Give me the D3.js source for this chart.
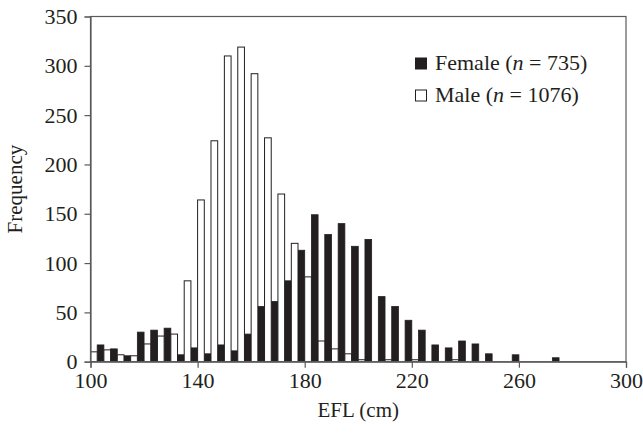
<!DOCTYPE html>
<html>
<head>
<meta charset="utf-8">
<script src="https://cdn.jsdelivr.net/npm/d3@7/dist/d3.min.js"></script>
<style>
  html, body { margin: 0; padding: 0; background: #fff; }
  svg { display: block; }
  text { font-family: "Liberation Serif", "Times New Roman", serif; fill: #231f20; }
</style>
</head>
<body>
<svg id="chart" width="643" height="439"></svg>
<script>
// EFL bin centres (cm), 5 cm bins
const bins = [100, 105, 110, 115, 120, 125, 130, 135, 140, 145, 150, 155, 160, 165, 170,
              175, 180, 185, 190, 195, 200, 205, 210, 215, 220, 225, 230, 235, 240, 245,
              250, 255, 260, 265, 270, 275, 280, 285, 290, 295];
// Frequency per bin
const female = [0, 17, 13, 6, 30, 32, 34, 7, 14, 8, 17, 11, 28, 56, 61,
                82, 113, 149, 129, 140, 117, 124, 66, 56, 42, 32, 17, 14, 21, 18,
                8, 0, 7, 0, 0, 4, 0, 0, 0, 0];
const male = [10, 12, 7, 6, 18, 26, 28, 82, 164, 224, 310, 319, 292, 227, 170,
              120, 86, 21, 13, 8, 2, 0, 2, 0, 2, 0, 0, 2, 0, 0,
              0, 0, 0, 0, 0, 0, 0, 0, 0, 0];
const xTicks = [100, 140, 180, 220, 260, 300];
const yTicks = [0, 50, 100, 150, 200, 250, 300, 350];
const seriesNames = ["Female", "Male"];
const seriesN = [735, 1076];

const ink = "#231f20";
const axisColor = "#5a5a5a";

const svg = d3.select("#chart");
const plotL = 90.5, plotR = 626, plotT = 16.5, plotB = 361.7;

const x = d3.scaleLinear().domain([100, 300]).range([plotL, plotR]);
const y = d3.scaleLinear().domain([0, 350]).range([plotB, plotT]);
const half = 2.5; // each bar covers half a bin

svg.append("defs").append("clipPath").attr("id", "plot")
  .append("rect").attr("x", plotL).attr("y", plotT - 1)
  .attr("width", plotR - plotL).attr("height", plotB - plotT + 1);

const rows = bins.map((b, i) => ({ bin: b, f: female[i], m: male[i] }));
const marks = svg.append("g").attr("clip-path", "url(#plot)");

// female bars sit left of each bin centre, male bars to the right
marks.selectAll("rect.f").data(rows.filter(d => d.f > 0)).join("rect")
  .attr("class", "f")
  .attr("x", d => x(d.bin - half))
  .attr("width", d => x(d.bin) - x(d.bin - half))
  .attr("y", d => y(d.f))
  .attr("height", d => y(0) - y(d.f))
  .attr("fill", ink).attr("stroke", ink).attr("stroke-width", 0.8);

marks.selectAll("rect.m").data(rows.filter(d => d.m > 0)).join("rect")
  .attr("class", "m")
  .attr("x", d => x(d.bin))
  .attr("width", d => x(d.bin + half) - x(d.bin))
  .attr("y", d => y(d.m))
  .attr("height", d => y(0) - y(d.m))
  .attr("fill", "#fff").attr("stroke", ink).attr("stroke-width", 1);

// frame
svg.append("rect").attr("x", plotL).attr("y", plotT)
  .attr("width", plotR - plotL).attr("height", plotB - plotT)
  .attr("fill", "none").attr("stroke", axisColor).attr("stroke-width", 1.2);

// axes
const xAxis = svg.append("g").attr("transform", `translate(0,${plotB})`)
  .call(d3.axisBottom(x).tickValues(xTicks).tickSize(6).tickPadding(4));
const yAxis = svg.append("g").attr("transform", `translate(${plotL},0)`)
  .call(d3.axisLeft(y).tickValues(yTicks).tickSize(6).tickPadding(7));
[xAxis, yAxis].forEach(g => {
  g.select(".domain").attr("stroke", axisColor).attr("stroke-width", 1.2);
  g.selectAll(".tick line").attr("stroke", axisColor).attr("stroke-width", 1.2);
  g.selectAll(".tick text").attr("font-size", 22)
    .attr("font-family", '"Liberation Serif", serif').attr("fill", ink);
});
xAxis.selectAll(".tick text").attr("dy", "0.72em");

// axis titles
svg.append("text").attr("x", (plotL + plotR) / 2).attr("y", 417)
  .attr("text-anchor", "middle").attr("font-size", 21).text("EFL (cm)");
svg.append("text")
  .attr("transform", `translate(22,${(plotT + plotB) / 2}) rotate(-90)`)
  .attr("text-anchor", "middle").attr("font-size", 21).text("Frequency");

// legend
const legend = svg.append("g");
const legendRows = [
  { name: seriesNames[0], n: seriesN[0], fill: ink, y: 70 },
  { name: seriesNames[1], n: seriesN[1], fill: "#fff", y: 102 }
];
legendRows.forEach(r => {
  legend.append("rect").attr("x", 415.5).attr("y", r.y - 12)
    .attr("width", 11).attr("height", 11)
    .attr("fill", r.fill).attr("stroke", ink).attr("stroke-width", 1);
  const t = legend.append("text").attr("x", 435).attr("y", r.y).attr("font-size", 22);
  t.append("tspan").text(`${r.name} (`);
  t.append("tspan").attr("font-style", "italic").text("n");
  t.append("tspan").text(` = ${r.n})`);
});
</script>
</body>
</html>
